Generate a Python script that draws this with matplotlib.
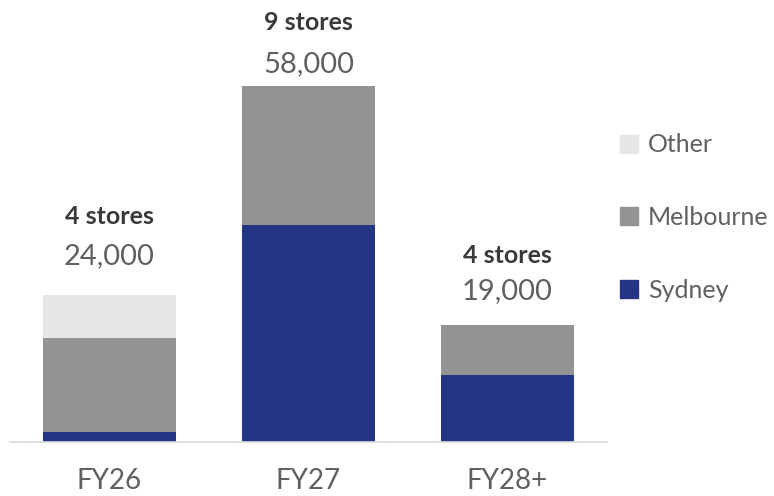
import numpy as np
import matplotlib.pyplot as plt
from matplotlib.patches import Patch

# data
years = ['FY26', 'FY27', 'FY28+']
sydney = [1600, 35300, 10900]
melbourne = [15300, 22700, 8100]
other = [7100, 0, 0]
totals = ['24,000', '58,000', '19,000']
stores = ['4 stores', '9 stores', '4 stores']

# layout: pixel offsets of the two label lines above each bar top
val_off = [39, 22, 34]
st_off = [78, 63, 70]

c_syd = '#233584'
c_mel = '#939393'
c_oth = '#e6e6e6'
c_txt = '#606060'

plt.rcParams['font.family'] = ['Lato', 'DejaVu Sans']

fig = plt.figure(figsize=(7.74, 4.96), dpi=100)
W, H = 774, 496
ax = fig.add_axes([10 / W, (H - 442) / H, 597 / W, 442 / H])

x = np.arange(len(years))
w = 0.67
syd = np.array(sydney)
mel = np.array(melbourne)
oth = np.array(other)
ax.bar(x, syd, w, color=c_syd)
ax.bar(x, mel, w, bottom=syd, color=c_mel)
ax.bar(x, oth, w, bottom=syd + mel, color=c_oth)

tops = syd + mel + oth
for i in range(len(years)):
    ax.annotate(totals[i], (x[i], tops[i]), xytext=(0, val_off[i]), textcoords='offset pixels',
                ha='center', va='center', fontsize=21, color=c_txt)
    ax.annotate(stores[i], (x[i], tops[i]), xytext=(0, st_off[i]), textcoords='offset pixels',
                ha='center', va='center', fontsize=18, color='#3a3a3a', fontweight='bold')

ax.set_xlim(-0.5, 2.5)
ax.set_ylim(0, 72000)
ax.set_xticks(x)
ax.set_xticklabels(years, fontsize=20, color=c_txt)
ax.tick_params(axis='x', length=0, pad=19)
ax.set_yticks([])
for s in ['top', 'right', 'left']:
    ax.spines[s].set_visible(False)
ax.spines['bottom'].set_color('#d9d9d9')
ax.spines['bottom'].set_linewidth(1.2)

handles = [Patch(color=c_oth, label='Other'), Patch(color=c_mel, label='Melbourne'),
           Patch(color=c_syd, label='Sydney')]
leg = fig.legend(handles=handles, loc='upper left', bbox_to_anchor=(597 / W, 1 - 111 / H),
                 frameon=False, fontsize=18, labelspacing=1.98, handlelength=0.75,
                 handleheight=0.75, handletextpad=0.4)
for t in leg.get_texts():
    t.set_color(c_txt)

fig.savefig('out.png', dpi=100)
